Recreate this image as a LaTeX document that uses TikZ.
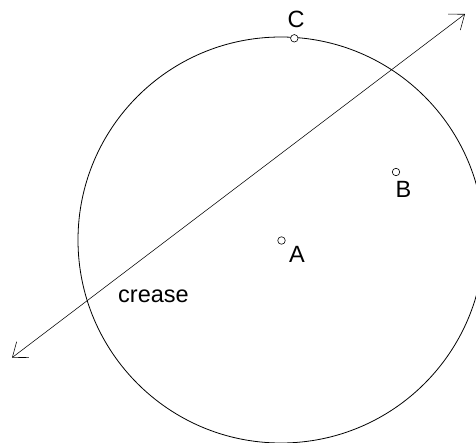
\documentclass[tikz,border=0pt]{standalone}
\usepackage{fontspec}
\setmainfont{Liberation Sans}
\usetikzlibrary{arrows.meta}

\tikzset{
    dot/.style={draw, fill=white, circle, inner sep=0pt, minimum size=7.5pt, line width=0.6pt},
    lbl/.style={font=\fontsize{23.5}{27}\selectfont, inner sep=0pt}
}

\begin{document}
\begin{tikzpicture}[x=1pt, y=-1pt]
    \useasboundingbox (0,0) rectangle (476,442);
    \clip (0,0) rectangle (476,442);

    % Circle round A
    \coordinate (centre) at (281,240);
    \draw[line width=0.8pt] (centre) circle[radius=203pt];

    % Crease
    \coordinate (creaseL) at (12,357.7);
    \coordinate (creaseR) at (465,14);
    \draw[line width=0.55pt, {Straight Barb[length=13pt, width=20pt]}-{Straight Barb[length=13pt, width=20pt]}]
        (creaseL) -- (creaseR);
    \node[lbl] (crease) at (153.5,296.5) {crease};

    % Points
    \node[dot] (a) at (281.5,240.5) {};
    \node[dot] (b) at (396,172) {};
    \node[dot] (c) at (294.3,38.3) {};
    \node[lbl] (alabel) at (297,254) {A};
    \node[lbl] (blabel) at (403.5,189) {B};
    \node[lbl] (clabel) at (296,19) {C};
\end{tikzpicture}
\end{document}
